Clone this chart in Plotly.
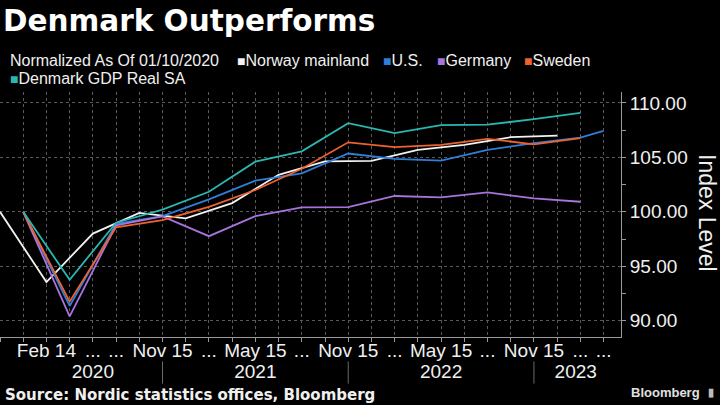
import plotly.graph_objects as go

# ---- data ----
norway_x = [0, 2, 4, 6, 8, 10, 12, 14, 16, 18, 20, 22, 24]
norway = [100.0, 93.55, 98.0, 99.9, 99.39, 100.8, 103.4, 104.62, 104.67, 105.68, 106.15, 106.85, 107.0]

others_x = [1, 3, 5, 7, 9, 11, 13, 15, 17, 19, 21, 23, 25]
denmark = [100.0, 93.75, 99.0, 100.2, 101.84, 104.6, 105.55, 108.14, 107.22, 107.95, 108.0, 108.5, 109.08]
sweden = [100.0, 91.75, 98.58, 99.23, 100.46, 102.0, 103.95, 106.38, 105.93, 106.14, 106.7, 106.2, 106.76]
germany = [100.0, 90.4, 98.75, 99.57, 97.76, 99.6, 100.4, 100.43, 101.45, 101.32, 101.78, 101.23, 100.92]

us_x = [1, 3, 5, 7, 9, 11, 13, 15, 17, 19, 21, 23, 25, 26]
us = [100.0, 91.35, 98.9, 99.6, 101.14, 102.86, 103.53, 105.35, 104.85, 104.7, 105.68, 106.3, 106.8, 107.43]

grid_positions = list(range(0, 27))
tick_pos = [2, 4, 5, 7, 9, 11, 13, 15, 17, 19, 21, 23, 25, 26]
tick_text = ["Feb 14", "...", "...", "Nov 15", "...", "May 15", "...", "Nov 15",
             "...", "May 15", "...", "Nov 15", "...", "..."]
year_pos = [4, 11, 19, 24.8]
year_text = ["2020", "2021", "2022", "2023"]
year_breaks = [7, 15, 23]
y_ticks = [90, 95, 100, 105, 110]

series = [
    ("Norway mainland", norway_x, norway, "#f2f2f2"),
    ("U.S.", us_x, us, "#2f7ed8"),
    ("Germany", others_x, germany, "#a774dd"),
    ("Sweden", others_x, sweden, "#ec6330"),
    ("Denmark GDP Real SA", others_x, denmark, "#2ab7b2"),
]

FONT = "Liberation Sans, Arial, sans-serif"
BOLD = "DejaVu Sans, sans-serif"
GRID = "#5a5a5a"
AX = "#9a9a9a"
XR = [0, 26.75]

fig = go.Figure()
for name, xs, ys, col in series:
    fig.add_trace(go.Scatter(x=xs, y=ys, mode="lines", name=name,
                             line=dict(color=col, width=1.8), showlegend=False))

# invisible traces to bind overlay axes
fig.add_trace(go.Scatter(x=[XR[0]], y=[100], xaxis="x2", mode="markers",
                         marker=dict(opacity=0), showlegend=False, hoverinfo="skip"))
fig.add_trace(go.Scatter(x=[XR[0]], y=[100], xaxis="x3", mode="markers",
                         marker=dict(opacity=0), showlegend=False, hoverinfo="skip"))

fig.update_layout(
    width=720, height=405,
    margin=dict(l=0, r=99, t=92, b=68),
    paper_bgcolor="black", plot_bgcolor="black",
    font=dict(family=FONT, color="#f0f0f0"),
    xaxis=dict(range=XR, tickvals=grid_positions, showticklabels=False,
               showgrid=True, gridcolor=GRID, griddash="dot", gridwidth=1,
               ticks="outside", ticklen=4, tickcolor=AX,
               showline=True, linecolor=AX, zeroline=False),
    xaxis2=dict(range=XR, overlaying="x", anchor="y", side="bottom",
                tickvals=tick_pos, ticktext=tick_text, showgrid=False,
                ticks="", tickfont=dict(size=19, color="#f0f0f0"),
                zeroline=False, showline=False),
    xaxis3=dict(range=XR, overlaying="x", anchor="y", side="bottom",
                tickvals=year_pos, ticktext=year_text, showgrid=False,
                ticks="", ticklabelstandoff=21,
                tickfont=dict(size=19, color="#f0f0f0"),
                zeroline=False, showline=False),
    yaxis=dict(range=[88.5, 111.0], side="right", tickvals=y_ticks,
               tickformat=".2f", showgrid=True, gridcolor=GRID, griddash="dot",
               ticks="outside", ticklen=4, tickcolor=AX,
               minor=dict(dtick=2.5, ticks="outside", ticklen=4, tickcolor=AX, showgrid=False),
               showline=True, linecolor=AX, zeroline=False,
               tickfont=dict(size=19, color="#f0f0f0")),
    title=dict(text="<b>Denmark Outperforms</b>", x=3/720, xanchor="left",
               xref="container", yref="container", y=1-21/405, yanchor="middle",
               font=dict(size=29.5, color="white", family=BOLD)),
)

for xb in year_breaks:
    fig.add_shape(type="line", xref="x", yref="paper", x0=xb, x1=xb,
                  y0=-0.10, y1=-0.19, line=dict(color="#6a6a6a", width=1))

PW = 621.0
PH = 245.0
def px(x):
    return x / PW
def py(y):
    return 1 + (92 - y) / PH

fig.add_annotation(text="Normalized As Of 01/10/2020", x=px(8), y=py(60), xref="paper", yref="paper",
                   xanchor="left", yanchor="middle", showarrow=False,
                   font=dict(size=16, color="#f0f0f0"))
legend_pos = [(235, 60), (381, 60), (435, 60), (522, 60), (8, 78)]
for (name, xs, ys, col), (lx, ly) in zip(series, legend_pos):
    fig.add_annotation(text=f"<span style='color:{col};font-size:14px'>■</span>{name}",
                       x=px(lx), y=py(ly), xref="paper", yref="paper",
                       xanchor="left", yanchor="middle", showarrow=False,
                       font=dict(size=16, color="#f0f0f0"))

fig.add_annotation(text="Index Level", textangle=90, x=px(707), y=py(213),
                   xref="paper", yref="paper", xanchor="center", yanchor="middle",
                   showarrow=False, font=dict(size=23, color="#f0f0f0"))
fig.add_annotation(text="<b>Source: Nordic statistics offices, Bloomberg</b>", x=px(3), y=py(395),
                   xref="paper", yref="paper", xanchor="left", yanchor="middle",
                   showarrow=False, font=dict(size=15, color="#f0f0f0", family=BOLD))
fig.add_annotation(text="<b>Bloomberg</b>", x=px(702), y=py(392),
                   xref="paper", yref="paper", xanchor="right", yanchor="middle",
                   showarrow=False, font=dict(size=13, color="#e0e0e0"))
fig.add_annotation(text="<b>▮</b>", x=px(706), y=py(392),
                   xref="paper", yref="paper", xanchor="left", yanchor="middle",
                   showarrow=False, font=dict(size=11, color="#bbbbbb"))

fig.write_html("out.html")
